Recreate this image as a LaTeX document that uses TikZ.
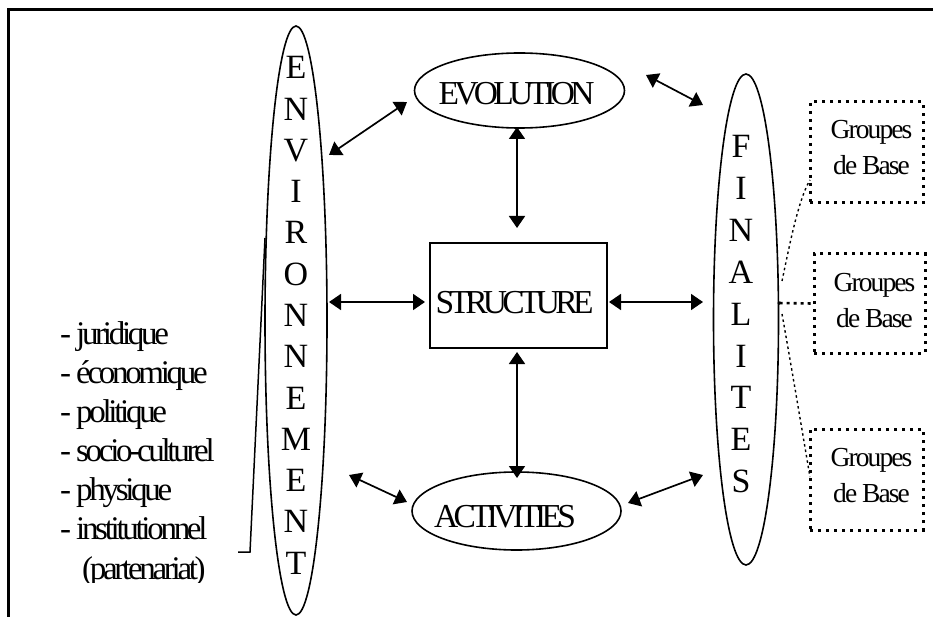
\documentclass[tikz,border=0pt]{standalone}
\usepackage{fontspec}
\setmainfont{Liberation Serif}
\newfontfamily\labfont[LetterSpace=-14]{Liberation Serif}
\newfontfamily\listfont[LetterSpace=-10]{Liberation Serif}
\newfontfamily\grpfont[LetterSpace=-7]{Liberation Serif}
\usetikzlibrary{shapes.geometric,arrows.meta}
\begin{document}
\begin{tikzpicture}[x=1pt,y=-1pt,
  arr/.style={{Triangle[length=12pt,width=16pt]}-{Triangle[length=12pt,width=16pt]}, line width=1.7pt},
  oval/.style={draw, ellipse, inner sep=0pt, line width=1.6pt},
  gbox/.style={draw, line width=3pt, dash pattern=on 3pt off 5pt, inner sep=0pt},
  biglab/.style={font=\labfont\fontsize{33.5}{39}\selectfont, anchor=base, inner sep=0pt},
  letter/.style={font=\fontsize{34}{40}\selectfont, anchor=base, inner sep=0pt},
  listitem/.style={font=\listfont\fontsize{33}{39}\selectfont, anchor=base west, inner sep=0pt},
  grptext/.style={font=\grpfont\fontsize{27.5}{33}\selectfont, anchor=base, inner sep=0pt},
  thindot/.style={line width=1.4pt, dash pattern=on 2.5pt off 3pt},
  thickdot/.style={line width=2.6pt, dash pattern=on 3pt off 4pt}
]
\useasboundingbox (0,0) rectangle (933,617);
% frame
\draw[line width=3pt] (8.5,617) -- (8.5,9.5) -- (933,9.5);

% big ellipses
\node[oval, minimum width=62pt, minimum height=589pt] (env) at (296,320.5) {};
\node[oval, minimum width=65pt, minimum height=491pt] (fin) at (746,319.5) {};
\foreach \l [count=\i from 0] in {E,N,V,I,R,O,N,N,E,M,E,N,T}
  \node[letter] (envl\i) at (296,{79+41.25*\i}) {\l};
\foreach \l [count=\i from 0] in {F,I,N,A,L,I,T,E,S}
  \node[letter] (finl\i) at (741,{157.5+41.9*\i}) {\l};

% central shapes
\node[oval, minimum width=210pt, minimum height=75pt] (evo) at (519.5,90.5) {};
\node[biglab] (evot) at (516.5,105) {EVOLUTION};
\node[draw, line width=1.6pt, minimum width=177pt, minimum height=105pt, inner sep=0pt] (str) at (518.5,295.5) {};
\node[biglab] (strt) at (514.5,313) {STRUCTURE};
\node[oval, minimum width=209pt, minimum height=78pt] (act) at (516.5,511) {};
\node[biglab] (actt) at (505,527) {ACTIVITIES};

% arrow end points
\coordinate (a1s) at (329,155);  \coordinate (a1e) at (407,102);
\coordinate (a2s) at (646,75);   \coordinate (a2e) at (703,105);
\coordinate (a3s) at (517,127);  \coordinate (a3e) at (517,228);
\coordinate (a4s) at (329,302);  \coordinate (a4e) at (425,302);
\coordinate (a5s) at (609,302);  \coordinate (a5e) at (703,302);
\coordinate (a6s) at (517,352);  \coordinate (a6e) at (517,478);
\coordinate (a7s) at (349,475);  \coordinate (a7e) at (407,502);
\coordinate (a8s) at (628,503);  \coordinate (a8e) at (703,475);
\foreach \k in {1,...,8} \draw[arr] (a\k s) -- (a\k e);

% groupes de base
\node[gbox, minimum width=113pt, minimum height=101pt] (g1) at (866.5,152.5) {};
\node[gbox, minimum width=111pt, minimum height=99pt] (g2) at (869.5,303.5) {};
\node[gbox, minimum width=113pt, minimum height=101pt] (g3) at (866.5,479.5) {};
\node[grptext] (g1a) at (871.5,139) {Groupes};
\node[grptext] (g1b) at (871.5,175) {de Base};
\node[grptext] (g2a) at (874.5,291) {Groupes};
\node[grptext] (g2b) at (874.5,327) {de Base};
\node[grptext] (g3a) at (871.5,466) {Groupes};
\node[grptext] (g3b) at (871.5,502) {de Base};

% dotted links
\coordinate (d1s) at (782,281); \coordinate (d1e) at (810,180);
\coordinate (d2s) at (777,303); \coordinate (d3s) at (782,314);
\coordinate (d3e) at (810,477);
\draw[thindot] (d1s) .. controls (789,248) and (798,200) .. (d1e);
\draw[thickdot, {Latex[length=3pt,width=4pt]}-] (d2s) -- (g2.west);
\draw[thindot] (d3s) .. controls (792,370) and (802,430) .. (d3e);

% bracket
\coordinate (b1) at (265,238); \coordinate (b2) at (250,552); \coordinate (b3) at (238,552);
\draw[line width=1.5pt] (b1) -- (b2) -- (b3);

% list
\begin{scope}
\clip (0,0) rectangle (260,582);
\node[listitem] (li1) at (60,344) {- juridique};
\node[listitem] (li2) at (60,383) {- économique};
\node[listitem] (li3) at (60,422) {- politique};
\node[listitem] (li4) at (60,461) {- socio-culturel};
\node[listitem] (li5) at (60,500) {- physique};
\node[listitem] (li6) at (60,539) {- institutionnel};
\node[listitem] (li7) at (82,579) {(partenariat)};
\end{scope}
\end{tikzpicture}
\end{document}
